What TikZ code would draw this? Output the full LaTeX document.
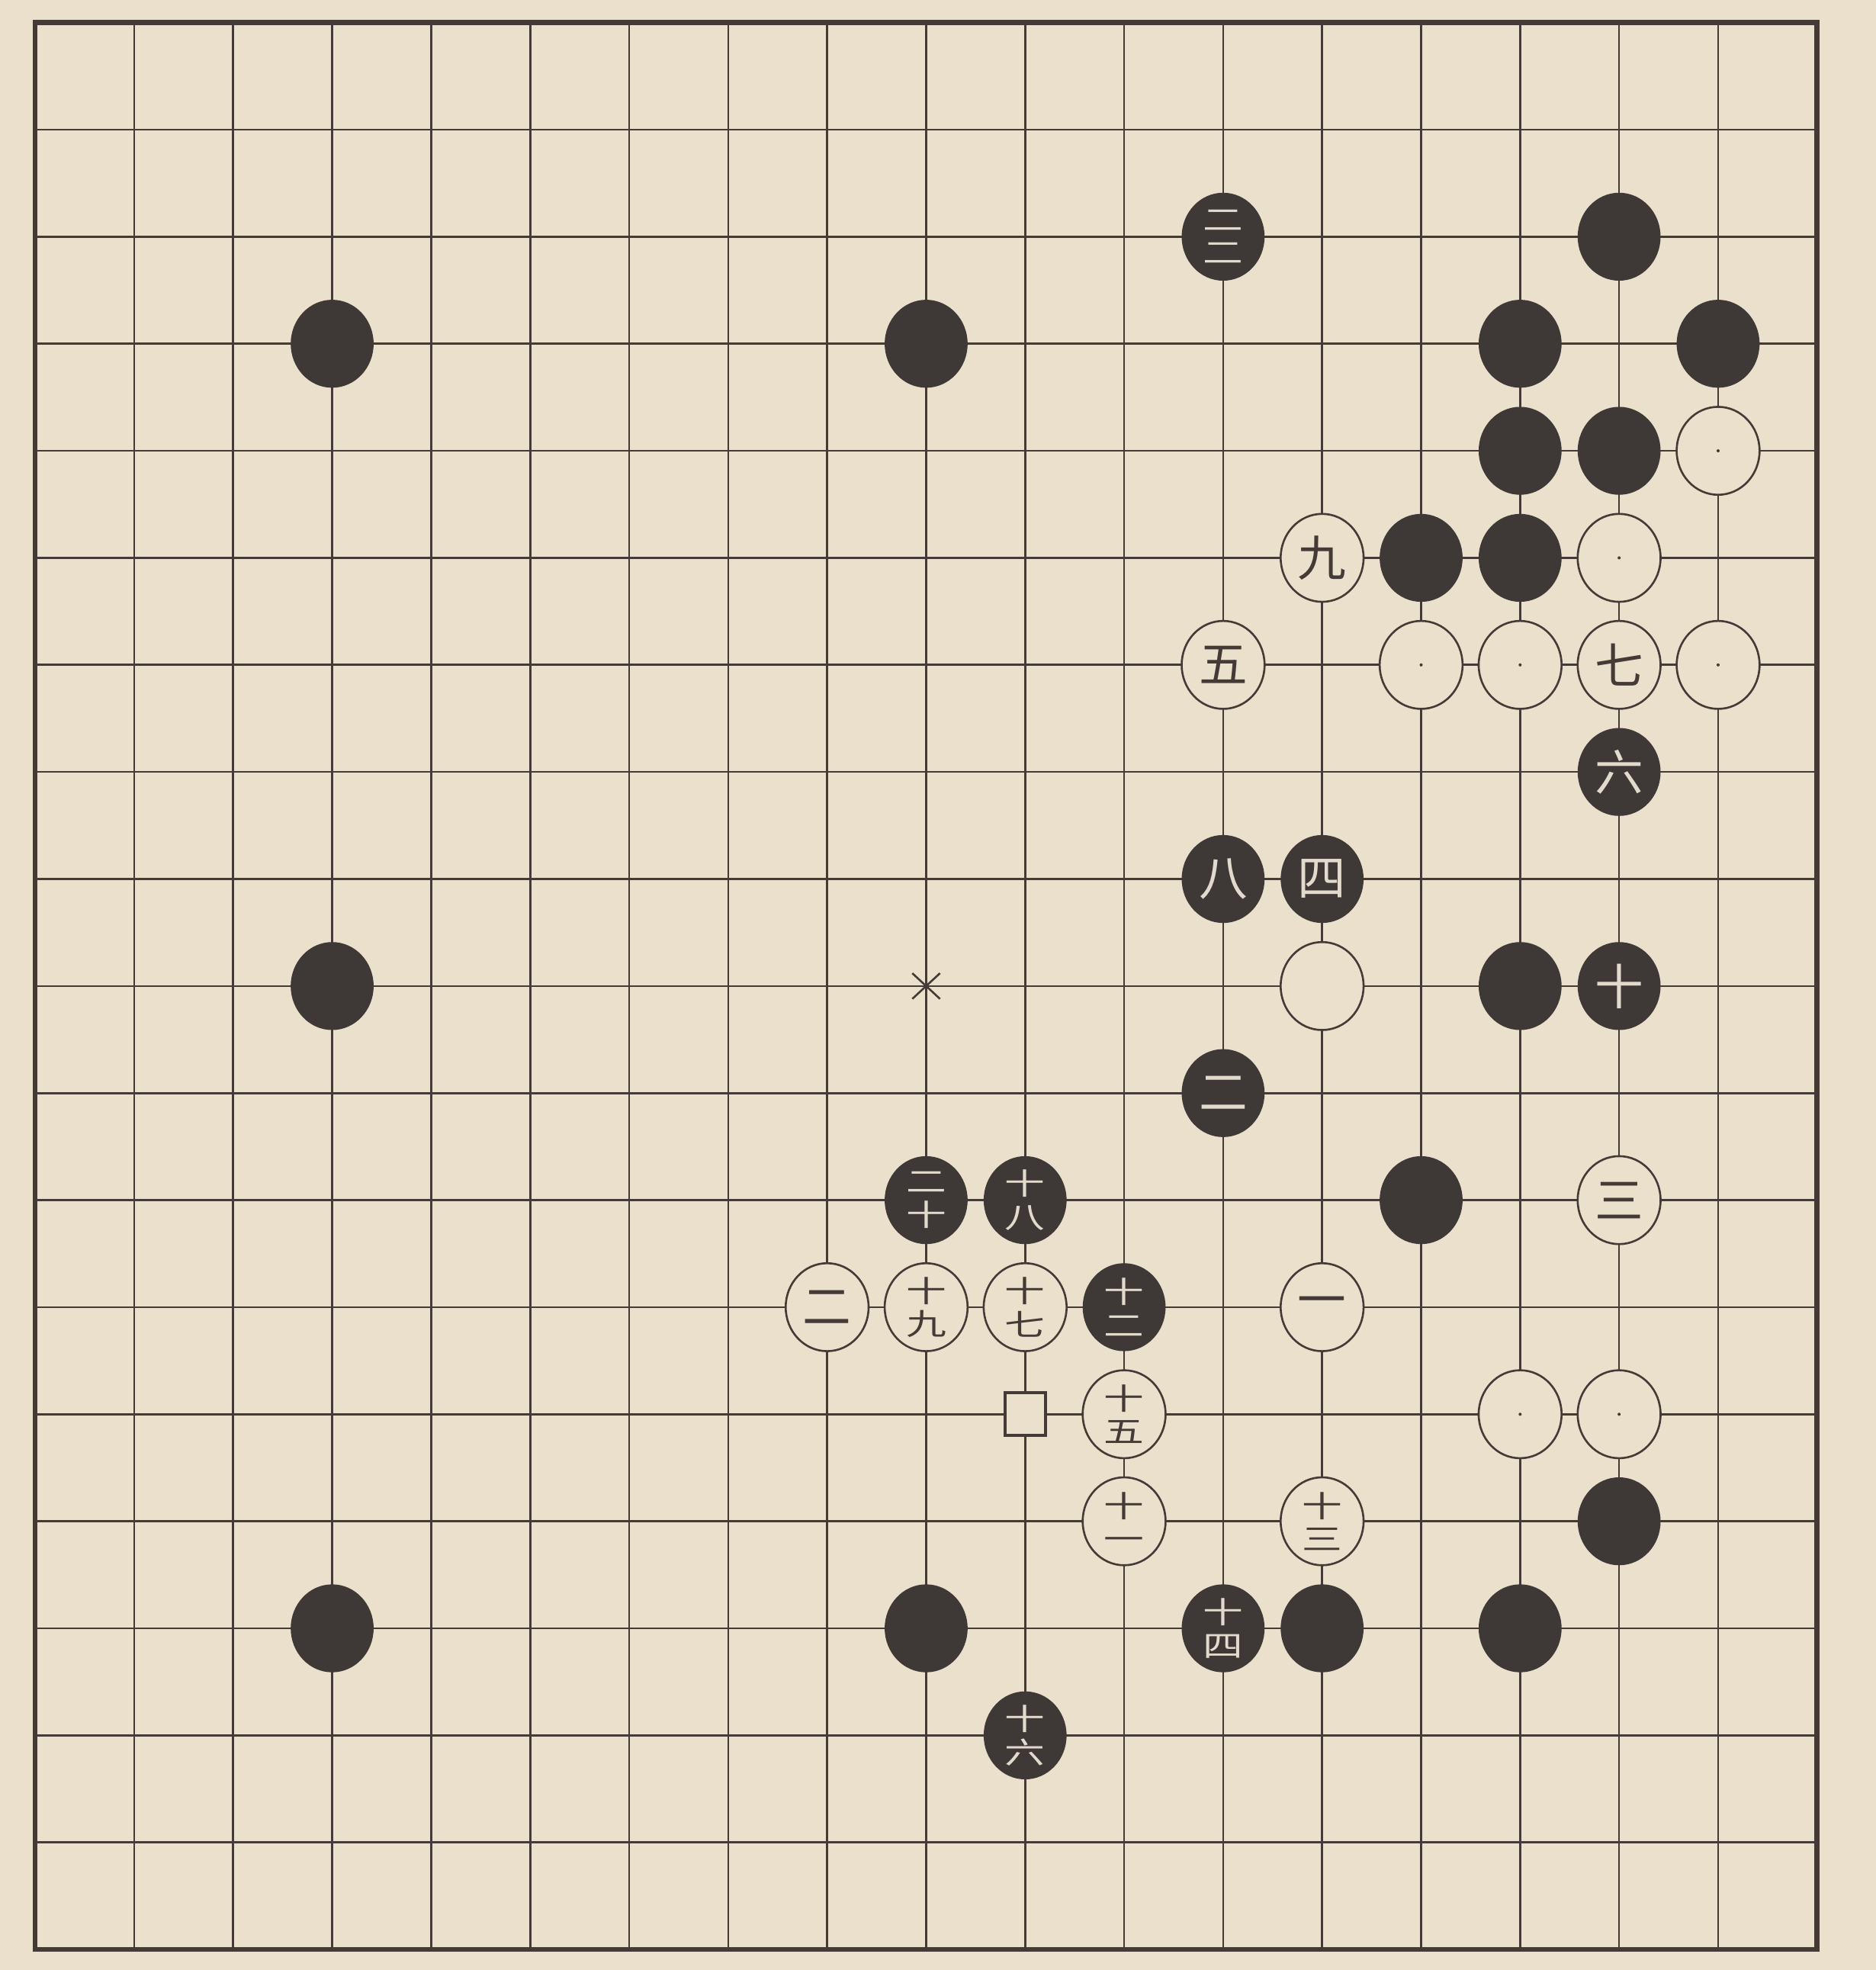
\documentclass[tikz,border=0pt]{standalone}
\usepackage{fontspec}
\newfontfamily\cjk{Noto Sans CJK SC}
\usetikzlibrary{shapes.geometric}
\definecolor{paper}{RGB}{234,224,204}
\definecolor{ink}{RGB}{68,58,54}
\definecolor{stoneblack}{RGB}{62,56,54}
\definecolor{stonelabel}{RGB}{226,218,204}
\newcommand{\twodigit}[2]{\scalebox{1.35}[1]{#1}\\\scalebox{1.35}[1]{#2}}

\begin{document}
\begin{tikzpicture}[x=1.576cm,y=-1.704cm,
		gridline/.style={ink,line width=0.9pt},
		boardedge/.style={ink,line width=2.3pt},
		stone/.style={ellipse,minimum width=1.32cm,minimum height=1.40cm,inner sep=0pt,font=\cjk\fontsize{22}{22}\selectfont},
		blackstone/.style={stone,fill=stoneblack,text=stonelabel},
		whitestone/.style={stone,draw=ink,line width=0.9pt,fill=paper,text=ink},
		pairlabel/.style={align=center,font=\cjk\fontsize{13.5}{15}\selectfont}]
			
			\fill[paper] (0.6447,0.7887) rectangle (19.591,19.192);
			\useasboundingbox (0.6447,0.7887) rectangle (19.591,19.192);
			
			\foreach \i in {2,...,18}
			{
				\draw[gridline] (\i,1) -- (\i,19);
				\draw[gridline] (1,\i) -- (19,\i);
			}
			\draw[boardedge] (1,1) rectangle (19,19);
			
			\coordinate (tengen) at (10,10);
			\draw[gridline] (tengen) +(-0.14,-0.12) -- +(0.14,0.12) (tengen) +(-0.14,0.12) -- +(0.14,-0.12);
			
			\node[draw=ink,line width=1.3pt,fill=paper,minimum width=0.64cm,minimum height=0.68cm,inner sep=0pt] (mark11-14) at (11,14) {};
			
			\foreach \c/\r in {4/4,10/4,16/4,18/4,17/3,16/5,17/5,15/6,16/6,4/10,16/10,15/12,17/15,4/16,10/16,14/16,16/16}
			{
				\node[blackstone] (b\c-\r) at (\c,\r) {};
			}
			
			\foreach \c/\r/\lbl in {14/9/四,17/8/六,13/9/八,17/10/十,13/11/二}
			{
				\node[blackstone] (b\c-\r) at (\c,\r) {\lbl};
			}
			
			\node[blackstone,pairlabel] (b13-3) at (13,3) {\twodigit{二}{二}};
			\node[blackstone,pairlabel] (b12-13) at (12,13) {\twodigit{十}{二}};
			\node[blackstone,pairlabel] (b13-16) at (13,16) {\twodigit{十}{四}};
			\node[blackstone,pairlabel] (b11-17) at (11,17) {\twodigit{十}{六}};
			\node[blackstone,pairlabel] (b11-12) at (11,12) {\twodigit{十}{八}};
			\node[blackstone,pairlabel] (b10-12) at (10,12) {\twodigit{二}{十}};
			
			\foreach \c/\r in {18/5,17/6,15/7,16/7,18/7,16/14,17/14}
			{
				\node[whitestone] (w\c-\r) at (\c,\r) {};
				\fill[ink] (w\c-\r.center) circle (0.7pt);
			}
			\node[whitestone] (w14-10) at (14,10) {};
			
			\foreach \c/\r/\lbl in {14/6/九,13/7/五,17/7/七,17/12/三,9/13/二,14/13/一}
			{
				\node[whitestone] (w\c-\r) at (\c,\r) {\lbl};
			}
			
			\node[whitestone,pairlabel] (w10-13) at (10,13) {\twodigit{十}{九}};
			\node[whitestone,pairlabel] (w11-13) at (11,13) {\twodigit{十}{七}};
			\node[whitestone,pairlabel] (w12-14) at (12,14) {\twodigit{十}{五}};
			\node[whitestone,pairlabel] (w12-15) at (12,15) {\twodigit{十}{一}};
			\node[whitestone,pairlabel] (w14-15) at (14,15) {\twodigit{十}{三}};
			
		\end{tikzpicture}
\end{document}
